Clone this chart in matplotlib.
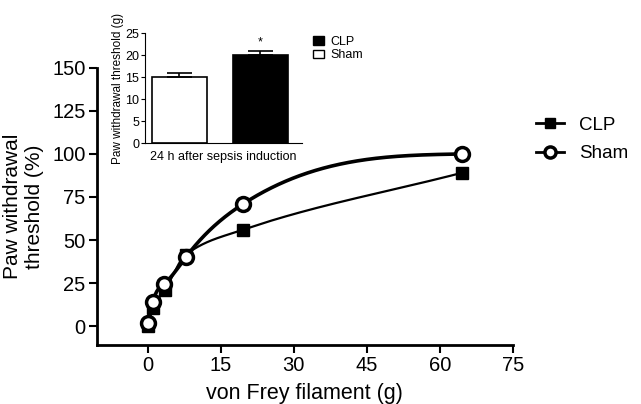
import numpy as np
import matplotlib
matplotlib.use("Agg")
import matplotlib.pyplot as plt
from matplotlib.patches import Patch

plt.rcParams['font.family'] = ['Liberation Sans', 'DejaVu Sans']

# main data (von Frey filament force vs. % withdrawal)
clp_x = [0.05, 1.0, 3.5, 7.8, 19.6, 64.5]
clp_y = [0.0, 10.5, 21.0, 41.5, 56.0, 89.0]
sham_x = [0.05, 1.0, 3.3, 7.8, 19.6, 64.5]
sham_y = [2.0, 14.0, 24.5, 40.0, 71.0, 100.0]

# inset data
groups = ['Sham', 'CLP']
thr_mean = [15.1, 20.0]
thr_err = [0.8, 1.0]


def natural_spline(x, y, n=400):
    # natural cubic spline through the points (drawn line only)
    x = np.asarray(x, float)
    y = np.asarray(y, float)
    npt = len(x)
    h = np.diff(x)
    A = np.zeros((npt, npt))
    r = np.zeros(npt)
    A[0, 0] = A[-1, -1] = 1
    for i in range(1, npt - 1):
        A[i, i - 1] = h[i - 1]
        A[i, i] = 2 * (h[i - 1] + h[i])
        A[i, i + 1] = h[i]
        r[i] = 6 * ((y[i + 1] - y[i]) / h[i] - (y[i] - y[i - 1]) / h[i - 1])
    M = np.linalg.solve(A, r)
    xx = np.linspace(x[0], x[-1], n)
    i = np.clip(np.searchsorted(x, xx) - 1, 0, npt - 2)
    a = x[i + 1] - xx
    b = xx - x[i]
    yy = (M[i] * a**3 + M[i + 1] * b**3) / (6 * h[i]) \
        + (y[i] / h[i] - M[i] * h[i] / 6) * a + (y[i + 1] / h[i] - M[i + 1] * h[i] / 6) * b
    return xx, yy


def pchip(x, y, n=400):
    # monotone cubic through the points (drawn line only)
    x = np.asarray(x, float)
    y = np.asarray(y, float)
    h = np.diff(x)
    d = np.diff(y) / h
    m = np.zeros_like(x)
    for i in range(1, len(x) - 1):
        if d[i - 1] * d[i] > 0:
            w1 = 2 * h[i] + h[i - 1]
            w2 = h[i] + 2 * h[i - 1]
            m[i] = (w1 + w2) / (w1 / d[i - 1] + w2 / d[i])
    m[0] = d[0]
    m[-1] = d[-1]
    xx = np.linspace(x[0], x[-1], n)
    idx = np.clip(np.searchsorted(x, xx) - 1, 0, len(x) - 2)
    t = (xx - x[idx]) / h[idx]
    yy = (2 * t**3 - 3 * t**2 + 1) * y[idx] + (t**3 - 2 * t**2 + t) * h[idx] * m[idx] \
        + (-2 * t**3 + 3 * t**2) * y[idx + 1] + (t**3 - t**2) * h[idx] * m[idx + 1]
    return xx, yy


fig = plt.figure(figsize=(6.41, 4.04), dpi=100)
ax = fig.add_axes([0.151, 0.146, 0.649, 0.686])

xx, yy = pchip(clp_x, clp_y)
ax.plot(xx, yy, color='black', lw=1.6, zorder=2)
xx, yy = natural_spline(sham_x, sham_y)
ax.plot(xx, yy, color='black', lw=2.6, zorder=2)

ax.plot(clp_x, clp_y, 's', color='black', ms=8, zorder=3)
ax.plot(sham_x, sham_y, 'o', mfc='white', mec='black', mew=2.5, ms=10, zorder=4)

# legend handles
h1, = ax.plot([], [], '-s', color='black', lw=2, ms=7)
h2, = ax.plot([], [], '-o', color='black', mfc='white', mew=2.5, lw=2, ms=8)
fig.legend([h1, h2], ['CLP', 'Sham'], loc='center left', bbox_to_anchor=(0.81, 0.655),
           frameon=False, fontsize=13.5, handlelength=1.5, labelspacing=0.6)

ax.set_xlim(-10.5, 75)
ax.set_ylim(-11, 150)
ax.set_xticks([0, 15, 30, 45, 60, 75])
ax.set_yticks([0, 25, 50, 75, 100, 125, 150])
ax.spines['top'].set_visible(False)
ax.spines['right'].set_visible(False)
for s in ['left', 'bottom']:
    ax.spines[s].set_linewidth(2)
ax.tick_params(width=1.5, length=6, labelsize=14.5, pad=2)
ax.set_xlabel('von Frey filament (g)', fontsize=15.5, labelpad=6)
ax.set_ylabel('Paw withdrawal\nthreshold (%)', fontsize=15, labelpad=6)

# inset bar chart
ins = fig.add_axes([0.226, 0.646, 0.245, 0.272])
ins.bar([0, 1], thr_mean, width=0.68, color=['white', 'black'], edgecolor='black', lw=1.2,
        yerr=[[0, 0], thr_err], error_kw=dict(ecolor='black', capsize=9, elinewidth=1.2, capthick=1.2))
ins.text(1, 22.3, '*', ha='center', fontsize=9)
ins.set_xlim(-0.426, 1.512)
ins.set_ylim(0, 25)
ins.set_yticks([0, 5, 10, 15, 20, 25])
ins.set_xticks([])
ins.spines['top'].set_visible(False)
ins.spines['right'].set_visible(False)
ins.tick_params(labelsize=9, length=3, pad=1)
ins.set_ylabel('Paw withdrawal threshold (g)', fontsize=8.5, labelpad=1)
ins.set_xlabel('24 h after sepsis induction', fontsize=9, labelpad=6)

ins.legend([Patch(fc='black', ec='black'), Patch(fc='white', ec='black')], ['CLP', 'Sham'],
           loc='upper left', bbox_to_anchor=(1.0, 1.08), frameon=False, fontsize=9,
           handlelength=0.9, handleheight=0.7, labelspacing=0.15, handletextpad=0.5)

fig.savefig('out.png', dpi=100)
